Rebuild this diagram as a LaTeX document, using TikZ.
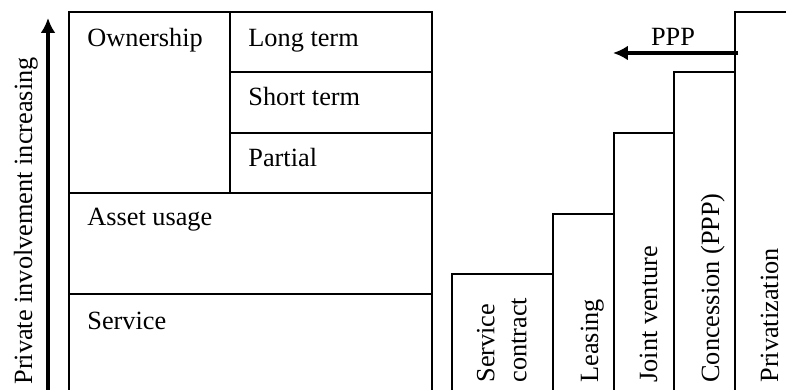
\documentclass[tikz,border=0pt]{standalone}
\usepackage{fontspec}
\setmainfont{Liberation Serif}
\usetikzlibrary{arrows.meta}

\begin{document}
\begin{tikzpicture}[
      x=0.5bp, y=-0.5bp,
      font=\fontsize{13.2}{16}\selectfont,
      box/.style={line width=1pt},
      cell/.style={inner sep=0pt,
                   anchor=base west},
      upright/.style={inner sep=0pt,
                      rotate=90,
                      anchor=base west},
      push/.style={line width=1.6pt,
                   -{Latex[length=7.5pt,width=7.5pt]}}
    ]

    \useasboundingbox (0,0) rectangle (786,390);
    \clip (0,0) rectangle (786,390);

    % table of involvement kinds
    \draw [box] (69,12) rectangle (432,400);
    \draw [box] (230,12) -- (230,193);
    \draw [box] (230,72) -- (432,72);
    \draw [box] (230,133) -- (432,133);
    \draw [box] (69,193) -- (432,193);
    \draw [box] (69,294) -- (432,294);

    \draw (87,47)
          node[cell]
          (ownership)
          { Ownership };
    \draw (248,47)
          node[cell]
          (longterm)
          { Long term };
    \draw (248,106)
          node[cell]
          (shortterm)
          { Short term };
    \draw (248,167)
          node[cell]
          (partial)
          { Partial };
    \draw (87,226)
          node[cell]
          (assetusage)
          { Asset usage };
    \draw (87,330)
          node[cell]
          (service)
          { Service };

    % increasing arrow on the left
    \coordinate (lowend) at (48,400);
    \coordinate (highend) at (48,18);
    \draw [push] (lowend) -- (highend);
    \draw (32,385)
          node[upright]
          (increasing)
          { Private involvement increasing };

    % staircase of contract forms
    \draw [box] (452,274) rectangle (553,400);
    \draw [box] (553,214) rectangle (614,400);
    \draw [box] (614,133) rectangle (674,400);
    \draw [box] (674,72)  rectangle (735,400);
    \draw [box] (735,12)  rectangle (800,400);

    \draw (527,383)
          node[upright, anchor=south west, align=left]
          (contract)
          { Service\\contract };
    \draw (598,383)
          node[upright]
          (leasing)
          { Leasing };
    \draw (657,383)
          node[upright]
          (jointventure)
          { Joint venture };
    \draw (719,383)
          node[upright]
          (concession)
          { Concession (PPP) };
    \draw (778,383)
          node[upright]
          (privatization)
          { Privatization };

    % PPP range arrow
    \coordinate (pppfrom) at (738,53);
    \coordinate (pppto) at (613,53);
    \draw [push] (pppfrom) --
                 node[pos=0.52, above=3pt, inner sep=0pt] { PPP }
                 (pppto);

\end{tikzpicture}
\end{document}
